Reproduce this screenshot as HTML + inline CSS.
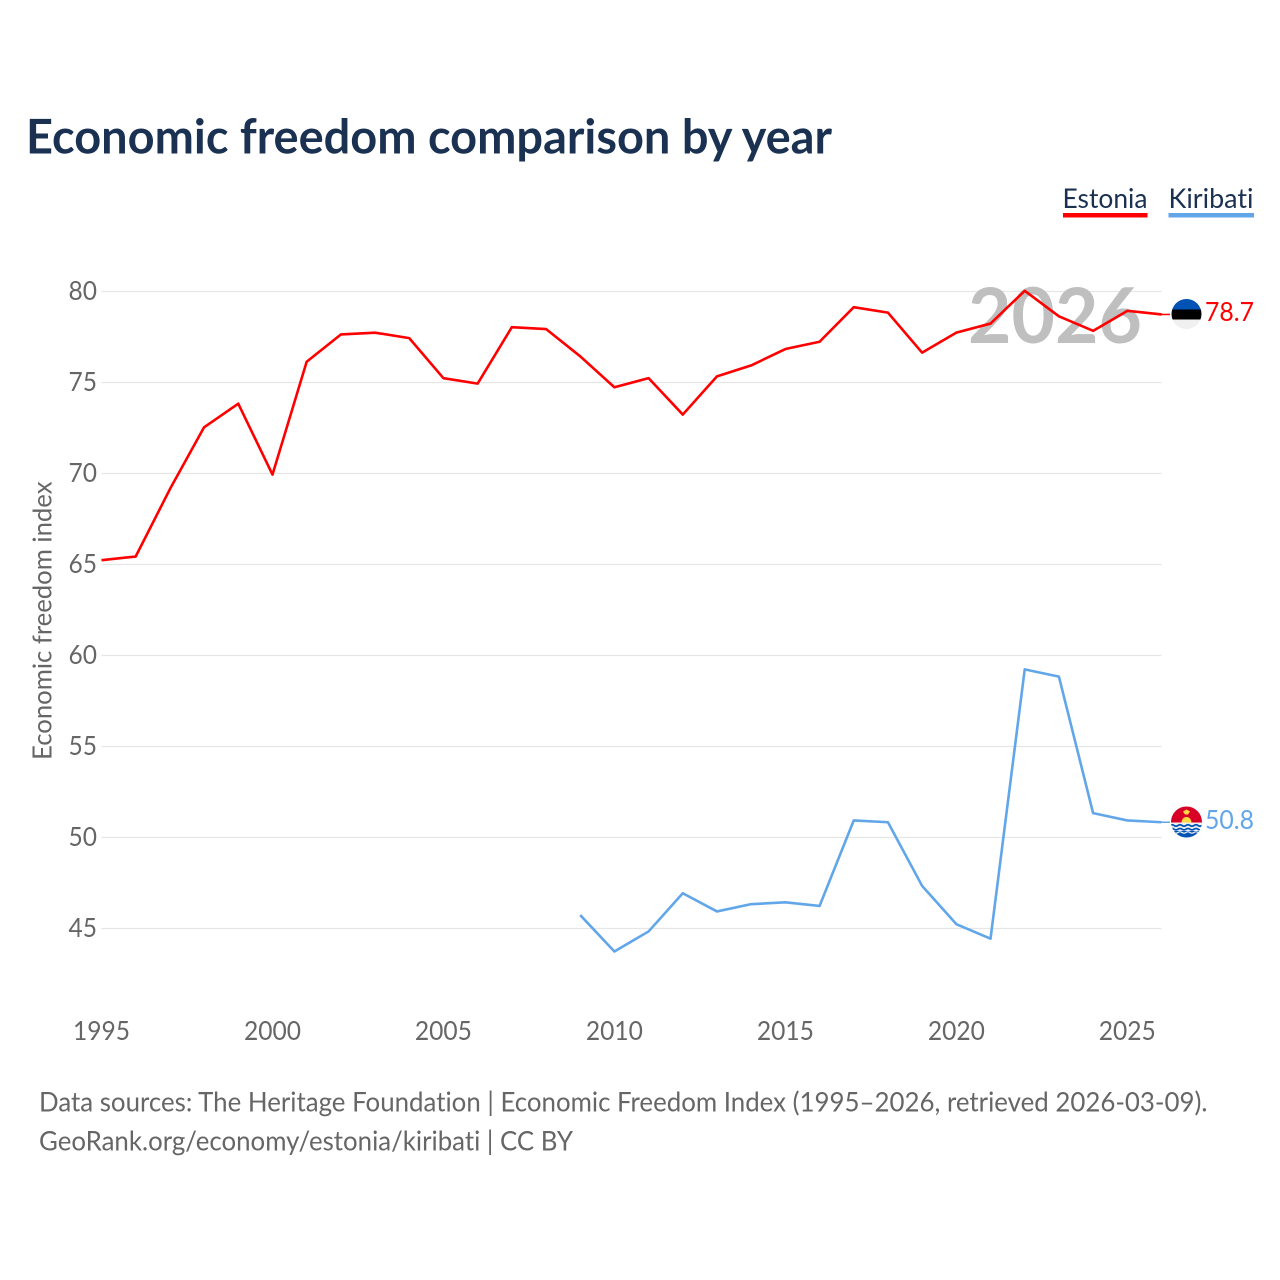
<!DOCTYPE html>
<html lang="en">
<head>
<meta charset="utf-8">
<title>Economic freedom comparison by year</title>
<style>
html,body{margin:0;padding:0;background:#fff;}
svg{display:block;}
text{font-family:"Lato","Carlito","Liberation Sans",sans-serif;font-variant-ligatures:none;}
</style>
</head>
<body>
<svg id="chart" xmlns="http://www.w3.org/2000/svg" width="1280" height="1280" viewBox="0 0 1280 1280">
  <rect width="1280" height="1280" fill="#fff"/>
  <text x="26" y="153.5" font-size="47.5" font-weight="700" fill="#1a3152" textLength="806" lengthAdjust="spacingAndGlyphs">Economic freedom comparison by year</text>

  <g>
    <g>
      <text x="1062.5" y="208" font-size="27.5" fill="#1a3152" textLength="85" lengthAdjust="spacingAndGlyphs">Estonia</text>
      <rect x="1063" y="213" width="84.5" height="4.5" fill="#ff0000"/>
    </g>
    <g>
      <text x="1168.5" y="208" font-size="27.5" fill="#1a3152" textLength="85" lengthAdjust="spacingAndGlyphs">Kiribati</text>
      <rect x="1168.5" y="213" width="85.5" height="4.5" fill="#62a6ea"/>
    </g>
  </g>

  <g id="grid"></g>
  <g id="yticks"></g>
  <g id="xticks"></g>

  <text transform="translate(51.5,760) rotate(-90)" x="0" y="0" font-size="26" fill="#666666" textLength="278.5" lengthAdjust="spacingAndGlyphs">Economic freedom index</text>

  <text x="968" y="343" font-size="77" font-weight="700" fill="#bfbfbf" textLength="174" lengthAdjust="spacingAndGlyphs">2026</text>

  <g id="series" transform="translate(0,-0.7)"></g>

  <defs>
    <clipPath id="flag-clip-ee"><circle cx="1186.5" cy="314" r="15"/></clipPath>
    <clipPath id="flag-clip-ki"><circle cx="1186.5" cy="822" r="15.5"/></clipPath>
  </defs>

  <g clip-path="url(#flag-clip-ee)">
    <rect x="1170" y="298" width="34" height="11.5" fill="#0052b4"/>
    <rect x="1170" y="309.5" width="34" height="10" fill="#000000"/>
    <rect x="1170" y="319.5" width="34" height="11" fill="#f0f0f0"/>
  </g>
  <text x="1205" y="321" font-size="26" fill="#ff0000" textLength="49" lengthAdjust="spacingAndGlyphs">78.7</text>

  <g clip-path="url(#flag-clip-ki)">
    <rect x="1170" y="806" width="34" height="17" fill="#d80027"/>
    <rect x="1170" y="822.5" width="34" height="17" fill="#f0f0f0"/>
    <rect x="1170" y="831" width="34" height="9" fill="#0052b4"/>
    <path d="M1181.5 822.5 a5 5.5 0 0 1 10 0 Z" fill="#ffda44"/>
    <path d="M1183 811.5 l3.5 -2 l3.5 2 l-2 3 h-3 Z" fill="#ffda44"/>
    <path d="M1170 825.5 q2 -1.4 4 0 t4 0 t4 0 t4 0 t4 0 t4 0 t4 0 t4 0" fill="none" stroke="#0052b4" stroke-width="1.7"/>
    <path d="M1170 829.2 q2 -1.4 4 0 t4 0 t4 0 t4 0 t4 0 t4 0 t4 0 t4 0" fill="none" stroke="#0052b4" stroke-width="1.7"/>
    <path d="M1170 832.5 q2 -1.4 4 0 t4 0 t4 0 t4 0 t4 0 t4 0 t4 0 t4 0" fill="none" stroke="#f0f0f0" stroke-width="1.2"/>
  </g>
  <text x="1205" y="829" font-size="26" fill="#62a6ea" textLength="49" lengthAdjust="spacingAndGlyphs">50.8</text>

  <text x="39" y="1111.5" font-size="27" fill="#666666" textLength="1168.5" lengthAdjust="spacingAndGlyphs">Data sources: The Heritage Foundation | Economic Freedom Index (1995–2026, retrieved 2026-03-09).</text>
  <text x="39" y="1150.5" font-size="27" fill="#666666" textLength="534" lengthAdjust="spacingAndGlyphs">GeoRank.org/economy/estonia/kiribati | CC BY</text>
</svg>

<script>
const years = [1995,1996,1997,1998,1999,2000,2001,2002,2003,2004,2005,2006,2007,2008,2009,2010,2011,2012,2013,2014,2015,2016,2017,2018,2019,2020,2021,2022,2023,2024,2025,2026];
const estoniaValues = [65.2,65.4,69.1,72.5,73.8,69.9,76.1,77.6,77.7,77.4,75.2,74.9,78.0,77.9,76.4,74.7,75.2,73.2,75.3,75.9,76.8,77.2,79.1,78.8,76.6,77.7,78.2,80.0,78.6,77.8,78.9,78.7];
const kiribatiYears = [2009,2010,2011,2012,2013,2014,2015,2016,2017,2018,2019,2020,2021,2022,2023,2024,2025,2026];
const kiribatiValues = [45.7,43.7,44.8,46.9,45.9,46.3,46.4,46.2,50.9,50.8,47.3,45.2,44.4,59.2,58.8,51.3,50.9,50.8];
const yTickLabels = [45,50,55,60,65,70,75,80];
const xTickLabels = [1995,2000,2005,2010,2015,2020,2025];

const NS = 'http://www.w3.org/2000/svg';
const plotLeft = 101.5, plotRight = 1161.5;
function xScale(year) { return plotLeft + (year - 1995) * (plotRight - plotLeft) / 31; }
function yScale(value) { return 291.5 + (80 - value) * (928.5 - 291.5) / 35; }
function make(tag, attrs, parent) {
  const el = document.createElementNS(NS, tag);
  for (const k in attrs) el.setAttribute(k, attrs[k]);
  parent.appendChild(el);
  return el;
}

const grid = document.getElementById('grid');
const yticks = document.getElementById('yticks');
const xticks = document.getElementById('xticks');
const series = document.getElementById('series');

yTickLabels.forEach(function (v) {
  const line = make('line', {x1: plotLeft, x2: plotRight, y1: yScale(v), y2: yScale(v), stroke: '#e6e6e6', 'stroke-width': 1.2}, grid);
  
  
  const label = make('text', {x: 97, y: yScale(v) + 8.5, 'text-anchor': 'end', 'font-size': 26.5, fill: '#666666', textLength: 28.5, lengthAdjust: 'spacingAndGlyphs'}, yticks);
  label.textContent = v;
  
  
});

xTickLabels.forEach(function (y) {
  const label = make('text', {x: xScale(y), y: 1040, 'text-anchor': 'middle', 'font-size': 26.5, fill: '#666666', textLength: 57, lengthAdjust: 'spacingAndGlyphs'}, xticks);
  label.textContent = y;
  
  
});

function pathFrom(xs, ys) {
  return xs.map(function (yr, i) {
    return (i ? 'L' : 'M') + xScale(yr).toFixed(2) + ' ' + yScale(ys[i]).toFixed(2);
  }).join(' ');
}

const estoniaLine = make('path', {d: pathFrom(years, estoniaValues), fill: 'none', stroke: '#ff0000', 'stroke-width': 2.6, 'stroke-linejoin': 'round'}, series);



const kiribatiLine = make('path', {d: pathFrom(kiribatiYears, kiribatiValues), fill: 'none', stroke: '#62a6ea', 'stroke-width': 2.6, 'stroke-linejoin': 'round'}, series);



const estoniaLast = estoniaValues[estoniaValues.length - 1];
const estoniaConnector = make('line', {x1: plotRight, x2: 1170, y1: yScale(estoniaLast), y2: yScale(estoniaLast), stroke: '#ff0000', 'stroke-width': 1.5}, series);



const kiribatiLast = kiribatiValues[kiribatiValues.length - 1];
const kiribatiConnector = make('line', {x1: plotRight, x2: 1170, y1: yScale(kiribatiLast), y2: yScale(kiribatiLast), stroke: '#62a6ea', 'stroke-width': 1.5}, series);


</script>
</body>
</html>
